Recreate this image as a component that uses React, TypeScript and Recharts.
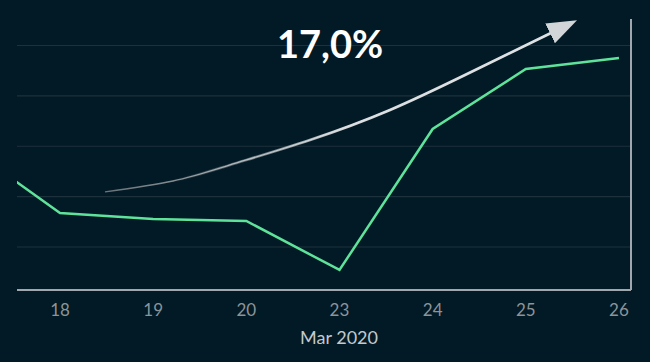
import React from 'react';
import { LineChart, Line, XAxis, YAxis, CartesianGrid, Label } from 'recharts';

// Trading days (the first one, 17, sits partly outside the visible range)
const categories = ['17', '18', '19', '20', '23', '24', '25', '26'];
const values = [110.0, 103.37, 102.78, 102.58, 97.72, 111.71, 117.67, 118.76];
const tickLabels = ['18', '19', '20', '23', '24', '25', '26'];
const tickPositions = [0, 1, 2, 3, 4, 5, 6];
const gridValues = [100, 105, 110, 115, 120];
const yDomain: [number, number] = [95.73, 122.63];

// Trend arrow annotation (position along the day axis, value)
const arrowPos = [0.483, 1.213, 1.825, 2.683, 3.542, 4.347, 5.27];
const arrowValues = [105.46, 106.55, 108.14, 110.62, 113.6, 117.07, 121.24];

const title = '17,0%';
const axisTitle = 'Mar 2020';

const data = categories.map((c, k) => ({ i: k - 1, day: c, value: values[k] }));
const arrowData = arrowPos.map((p, k) => ({ i: p, arrow: arrowValues[k] }));

const BG = '#021a25';
const FONT = 'Lato, "Open Sans", sans-serif';

const gridGenerator = (props: any) => {
  const yAxis = props?.yAxis;
  if (yAxis && typeof yAxis.scale === 'function') {
    return gridValues.map((v) => yAxis.scale(v));
  }
  const off = props?.offset ?? {};
  const top = off.top ?? 19;
  const h = off.height ?? 271;
  return gridValues.map(
    (v) => top + (h * (yDomain[1] - v)) / (yDomain[1] - yDomain[0])
  );
};

export default function App() {
  return (
    <div
      style={{
        position: 'absolute',
        left: 0,
        top: 0,
        width: 650,
        height: 362,
        background: BG,
        overflow: 'hidden',
      }}
    >
      <LineChart
        width={650}
        height={362}
        data={data}
        margin={{ top: 19, right: 18, left: 17, bottom: 0 }}
      >
        <defs>
          <linearGradient id="arrowThin" x1="0" y1="0" x2="1" y2="0">
            <stop offset="0%" stopColor="#6a7379" />
            <stop offset="60%" stopColor="#cfd3d6" />
            <stop offset="100%" stopColor="#dfe2e4" />
          </linearGradient>
          <linearGradient id="arrowThick" x1="0" y1="0" x2="1" y2="0">
            <stop offset="0%" stopColor="#dfe2e4" stopOpacity={0} />
            <stop offset="15%" stopColor="#dfe2e4" stopOpacity={0} />
            <stop offset="55%" stopColor="#dfe2e4" stopOpacity={0.95} />
            <stop offset="100%" stopColor="#dfe2e4" stopOpacity={1} />
          </linearGradient>
          <marker
            id="arrowHead"
            markerUnits="userSpaceOnUse"
            markerWidth={32}
            markerHeight={26}
            viewBox="0 -13 32 26"
            refX={1}
            refY={0}
            orient="auto"
          >
            <path d="M0,-11 L30,0 L0,11 Z" fill="#d3d6d9" />
          </marker>
        </defs>
        <CartesianGrid
          vertical={false}
          stroke="#1c313b"
          strokeWidth={1.2}
          horizontalCoordinatesGenerator={gridGenerator}
        />
        <XAxis
          type="number"
          dataKey="i"
          domain={[-0.4615, 6.129]}
          allowDataOverflow
          ticks={tickPositions}
          tickFormatter={(v: number) => tickLabels[v] ?? ''}
          tickLine={false}
          tickSize={0}
          tickMargin={14}
          height={72}
          axisLine={{ stroke: '#a0a8ad', strokeWidth: 2 }}
          tick={{ fill: '#8b949a', fontSize: 17, fontFamily: FONT }}
        >
          <Label
            value={axisTitle}
            position="insideBottom"
            offset={18}
            dx={15}
            fill="#c3c9cc"
            fontSize={18}
            fontFamily={FONT}
          />
        </XAxis>
        <YAxis
          orientation="right"
          width={1}
          domain={yDomain}
          allowDataOverflow
          ticks={gridValues}
          tick={false}
          tickLine={false}
          axisLine={{ stroke: '#a0a8ad', strokeWidth: 2 }}
        />
        <Line
          dataKey="value"
          type="linear"
          stroke="#5fe39b"
          strokeWidth={2.5}
          dot={false}
          activeDot={false}
          isAnimationActive={false}
        />
        <Line
          data={arrowData}
          dataKey="arrow"
          type="natural"
          stroke="url(#arrowThin)"
          strokeWidth={1.3}
          dot={false}
          activeDot={false}
          isAnimationActive={false}
        />
        <Line
          data={arrowData}
          dataKey="arrow"
          type="natural"
          stroke="url(#arrowThick)"
          strokeWidth={2.8}
          dot={false}
          activeDot={false}
          markerEnd="url(#arrowHead)"
          isAnimationActive={false}
        />
      </LineChart>
      <div
        style={{
          position: 'absolute',
          left: 230,
          top: 24,
          width: 200,
          textAlign: 'center',
          color: '#ffffff',
          fontFamily: FONT,
          fontWeight: 700,
          fontSize: 38,
          lineHeight: '38px',
        }}
      >
        {title}
      </div>
    </div>
  );
}
